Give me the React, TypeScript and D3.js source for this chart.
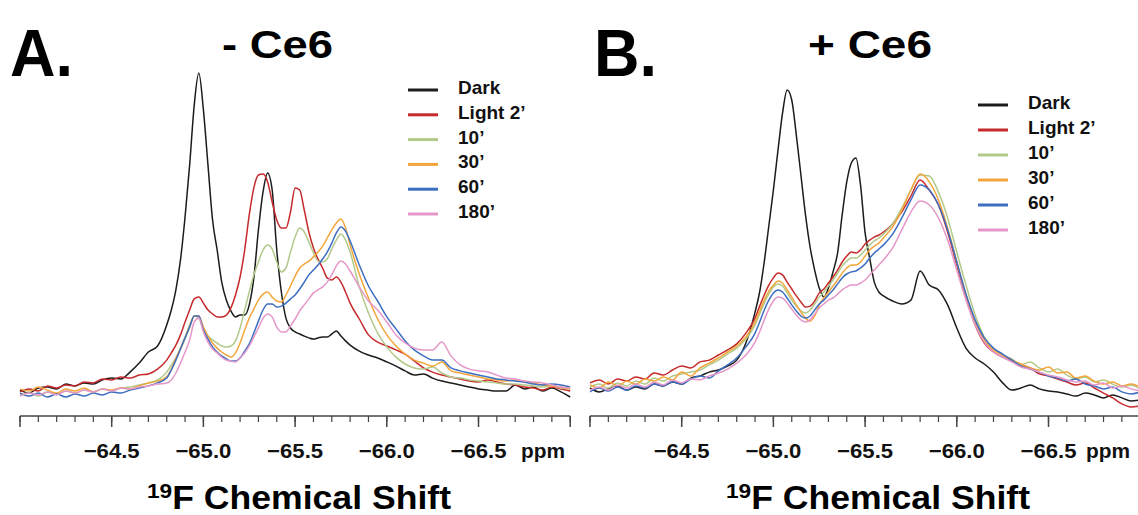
import React from 'react';
import * as d3 from 'd3';

const W = 1138;
const H = 515;

// ppm grid for panel A (finer in the peak region)
const gridA = [
  -64.0, -64.05, -64.1, -64.15, -64.2, -64.25, -64.3, -64.35, -64.4, -64.45, -64.5, -64.55, -64.6, -64.65, -64.7, -64.75,
  -64.8, -64.825, -64.85, -64.875, -64.9, -64.925, -64.95, -64.975, -65.0, -65.025, -65.05, -65.075, -65.1, -65.125,
  -65.15, -65.175, -65.2, -65.225, -65.25, -65.275, -65.3, -65.325, -65.35, -65.375, -65.4, -65.425, -65.45, -65.475,
  -65.5, -65.525, -65.55, -65.575, -65.6, -65.625, -65.65, -65.675, -65.7, -65.725, -65.75, -65.775, -65.8,
  -65.85, -65.9, -65.95, -66.0, -66.05, -66.1, -66.15, -66.2, -66.25, -66.3, -66.35, -66.4, -66.45, -66.5,
  -66.55, -66.6, -66.65, -66.7, -66.75, -66.8, -66.85, -66.9, -66.95, -67.0,
];

// ppm grid for panel B
const gridB = [
  -64.0, -64.05, -64.1, -64.15, -64.2, -64.25, -64.3, -64.35, -64.4, -64.45, -64.5, -64.55, -64.6, -64.65, -64.7, -64.75,
  -64.8, -64.85,
  -64.9, -64.925, -64.95, -64.975, -65.0, -65.025, -65.05, -65.075, -65.1, -65.125, -65.15, -65.175, -65.2, -65.225,
  -65.25, -65.275, -65.3, -65.325, -65.35, -65.375, -65.4, -65.425, -65.45, -65.475, -65.5, -65.525, -65.55, -65.575, -65.6,
  -65.65, -65.7, -65.75, -65.8, -65.85, -65.9, -65.95, -66.0, -66.05, -66.1, -66.15, -66.2, -66.25, -66.3, -66.35, -66.4,
  -66.45, -66.5, -66.55, -66.6, -66.65, -66.7, -66.75, -66.8, -66.85, -66.9, -66.95, -67.0,
];

// Panel A (- Ce6) intensities
const darkA = [
  3.3, 2.3, 4, 4.3, 3.7, 5.3, 4.7, 5.7, 5.3, 6.7, 7.3, 7, 9.3, 12.3, 16, 18,
  25, 30, 36.7, 46.7, 61, 78.3, 98.3, 109, 96.7, 78.3, 60, 50, 39.3, 33.3, 29.7, 27.7, 28.3, 28.3, 31.7, 40.7, 56.7, 69.3,
  75.7, 70, 50, 36, 27.3, 24, 22.7, 22, 21.3, 20.7, 20.3, 20.7, 21, 21, 22, 23, 21.3, 19.7, 18.3,
  16.3, 15, 14, 12.7, 11.3, 9.7, 8.3, 8.7, 7.3, 6.3, 5.7, 5, 4.3, 3.7, 3.3, 3, 3, 5, 3.7, 4.3, 3, 4, 2.7, 1,
];
const lightA = [
  2.7, 3.7, 3, 4.7, 4, 5, 4.7, 6, 5.7, 7, 6.7, 7.7, 7.3, 8.3, 8.7, 10.3,
  13.3, 15.7, 18.3, 21.7, 26, 30, 33.7, 34.3, 32.3, 30, 28.7, 27.7, 27.7, 28.3, 30.7, 35, 41, 50, 61.7, 70.7, 75, 75.3,
  72.7, 66, 60, 57.3, 57.3, 62.7, 70.7, 70, 63.3, 56, 50.7, 47, 44, 40.7, 40, 41, 39.3, 36, 32.3,
  27, 21.7, 19.3, 18, 16.7, 15.3, 13, 10.7, 9.3, 8.3, 7.7, 7, 6.3, 6, 6.7, 6, 5.3, 5, 4.3, 4, 3.3, 4.3, 3.7, 3,
];
const m10A = [
  1.7, 2.3, 1.3, 2.7, 2, 3, 2.3, 3.3, 2.7, 3.7, 3, 4, 4.3, 5, 5.7, 6.7,
  9.3, 11.7, 14, 17.3, 21, 25, 28, 27.3, 23.3, 21.3, 20, 19, 18, 17.7, 18, 19.7, 24, 30, 36, 41.7, 46, 50,
  51.7, 50.3, 46, 42.7, 44, 49.3, 54.3, 57.3, 56, 52.7, 49, 46.3, 46, 47, 50.3, 53.3, 55.3, 53.3, 49.3,
  37.7, 29, 22.3, 17.7, 14.3, 12, 10.7, 10.3, 11, 9, 7.7, 7.3, 6.7, 6.3, 6, 5.7, 5.3, 5.3, 5, 4.7, 4.3, 4.7, 4, 3.7,
];
const m30A = [
  3.7, 3, 4.3, 3.3, 2.3, 3.7, 3, 4, 2.7, 3.7, 3.3, 4, 3.7, 4.7, 5.7, 6.3,
  7.7, 10.3, 14, 17, 20.7, 24.3, 28, 28, 24.3, 21.3, 19, 17.3, 16, 15, 14.3, 15.7, 19, 23.3, 27.3, 30.3, 33.3, 35.3,
  36, 34.3, 33, 32.7, 35, 38, 41.3, 44, 45.3, 46.3, 47.7, 49.3, 51.3, 54, 56.7, 59, 60.3, 57.3, 51.7,
  42, 34, 27, 21.7, 18, 15.3, 13.3, 12.3, 11.3, 12.7, 9.7, 9, 8.3, 7.7, 7, 6.7, 6.3, 6.7, 6, 5.7, 5, 4.7, 4.3, 3.7,
];
const m60A = [
  2.3, 1.3, 2.3, 1, 2, 1, 2, 1.3, 2.3, 1.7, 2.7, 2.3, 3.3, 4, 4.7, 5.7,
  7.3, 10, 13.3, 17, 20.7, 24.3, 28, 28, 23.3, 20.3, 17.7, 16, 14.7, 13.7, 13, 13, 14, 16.3, 18.7, 22.3, 26.3, 30,
  32, 32, 31, 31.3, 32.3, 33.7, 35, 37, 39.3, 41.7, 43.3, 45, 47, 49.3, 52.3, 55.7, 57.7, 56.3, 53,
  45, 38, 33, 27.7, 23.7, 19.7, 16.7, 14.7, 13.3, 13.3, 10.7, 9.7, 9, 8.3, 7.7, 7, 6.7, 6.3, 6, 5.3, 5, 5.3, 5, 4.3,
];
const m180A = [
  1.3, 2.3, 1.7, 2.7, 1.7, 3, 2.3, 3.3, 2.7, 3.7, 3, 4, 3.7, 4.3, 4.7, 5.3,
  5.7, 6.7, 9, 12.3, 16, 20, 26, 27.3, 22.7, 19.3, 17, 15.7, 14.3, 13.3, 13, 12.7, 14, 15.7, 18, 21, 24, 27.3,
  28.7, 27.7, 24.3, 22.7, 22.7, 24.7, 27, 29.7, 31.7, 33.7, 35.7, 36.7, 37.7, 39.3, 41.7, 44.7, 46.3, 45.3, 43,
  37.7, 33, 30, 26, 21.7, 19, 17.3, 16.7, 16.7, 19.3, 14.7, 11.7, 10.3, 9.7, 9.3, 8.3, 7.3, 7, 6.3, 6, 5.7, 5, 4.3, 4,
];

// Panel B (+ Ce6) intensities
const darkB = [
  4, 2.7, 3.7, 4.7, 3.3, 4.3, 3.7, 5.3, 4.7, 6, 5.3, 7.3, 8, 9.3, 10, 11.3, 13.3, 19,
  29.3, 36, 46, 58, 70, 83.3, 95.7, 103.3, 100, 88.3, 75, 61.7, 51, 43.3, 37.3, 34.3, 37.3, 42.7, 49, 61.7, 72.7, 79,
  80.7, 71.7, 55.7, 47.3, 39.3, 36, 34.7,
  33, 32, 33.3, 43, 38.3, 36.7, 31.7, 24, 17.3, 14, 12, 9.3, 5.7, 3.3, 4, 5, 3.7, 3, 2.7, 2, 1.3, 2.3, 1.7, 0.7, 1.7, 0.7, -0.3, 0,
];
const lightB = [
  5.7, 6.7, 5.3, 7, 6.3, 7.7, 7, 9, 8.3, 10, 11.3, 10.7, 12.7, 13.3, 15, 16.7, 18.7, 22.3,
  27.3, 31.3, 35, 38.3, 40.7, 42.3, 41.7, 39.3, 37, 34.7, 32.7, 31, 31.3, 33, 35.7, 37, 39, 41, 43.3, 46, 48, 49.3,
  49, 50, 52, 53.3, 54.3, 55, 56,
  58.7, 62.7, 68, 73.3, 70, 65, 56, 45, 34.3, 25, 19, 16, 14.3, 13, 11.7, 10.7, 8.7, 8, 7, 6, 5, 5.7, 4, 2.3, 0.7, -1.3, -2.3, -2,
];
const m10B = [
  4.3, 5.3, 4, 5.7, 4.7, 6.3, 5.3, 7.3, 6.3, 8, 8.7, 9.3, 10, 11.7, 13.3, 15.3, 17.3, 20.3,
  25, 28.7, 32.3, 35.3, 37.7, 38.7, 38, 35.7, 33.3, 31.3, 29.7, 29, 30, 32, 34.3, 36, 38, 40, 42.3, 44.7, 46.3, 47.3,
  47.3, 48.3, 50, 51.7, 53, 54, 55.3,
  58.7, 64, 70, 75, 74.7, 69.3, 60.7, 49.3, 38.3, 28.3, 21, 17, 15, 13.7, 11.7, 12.7, 10.7, 9.3, 10.3, 8.3, 7, 7.7, 6, 6.7, 5.3, 4.3, 5, 3.7,
];
const m30B = [
  5, 4, 6, 4.7, 6.3, 5.3, 7, 6.3, 7.7, 6.7, 9.3, 8, 10.7, 12.3, 14, 16, 18, 21,
  26, 29.7, 33.3, 36.3, 38.3, 39.7, 39, 36.7, 34.3, 31.7, 29.3, 27.3, 26.3, 28, 31.7, 34, 36, 38, 40, 42.3, 44, 45,
  45, 46, 48, 50, 51.3, 52.3, 54,
  57.7, 63.3, 70, 75.3, 72.7, 66.7, 57.3, 46, 35, 26, 20, 16.7, 15, 13.3, 12, 10.7, 10, 11, 9, 9.3, 7.3, 8, 6.3, 5.3, 6, 4.7, 5.3, 4.3,
];
const m60B = [
  2.7, 4, 3, 4.3, 3.3, 4.7, 4, 5.3, 4.7, 6, 5.3, 7, 8, 7.3, 9.7, 11.7, 14, 17.7,
  22.3, 26, 30, 33.3, 35.7, 36.7, 36, 34, 31.7, 29.7, 28, 27.3, 28, 30, 32, 33.3, 35, 36.7, 38.7, 40.7, 42, 42.7,
  43, 44, 45.3, 47.3, 49, 50.3, 51.7,
  55.3, 60.7, 66.7, 71.7, 70, 65, 56.7, 46, 35.3, 26.7, 20.7, 17.3, 15.3, 13.3, 11.3, 10.3, 9.3, 8, 7.3, 6.3, 7, 5.3, 4.7, 3.7, 4.3, 2.7, 2, 2.7,
];
const m180B = [
  3.3, 4.3, 3.3, 5, 4, 5.3, 4.3, 6, 5, 6.7, 5.7, 7, 6.7, 8, 9, 10.3, 12.3, 15,
  19.3, 22.7, 26.7, 30.3, 33, 34.3, 34, 32.3, 30.3, 28.3, 26.7, 26, 26.7, 28.7, 30.7, 32, 33.3, 34, 35.3, 36.7, 37.7, 38.3,
  38.3, 39, 40, 41.7, 43.3, 45, 46.7,
  50.7, 56.7, 62.7, 66.3, 65, 60.7, 53.3, 43.3, 33.3, 25, 19.3, 16, 14.3, 12.7, 11, 10.3, 9.3, 8.3, 7.7, 6.7, 6, 6.3, 5, 5.7, 4, 4.7, 3.7, 3,
];

const seriesNames = ['Dark', 'Light 2\u2019', '10\u2019', '30\u2019', '60\u2019', '180\u2019'];
const seriesColors = ['#1c1c1c', '#c62a2c', '#b2c98a', '#f2a63c', '#3d6ec2', '#e597c8'];
const labeledTicks = [-64.5, -65.0, -65.5, -66.0, -66.5];
const majorTicks = [-64.0, -64.5, -65.0, -65.5, -66.0, -66.5, -67.0];
const xDomain = [-64.0, -67.0];
const yDomain = [0, 110];

const FONT = "'Liberation Sans', Arial, Helvetica, sans-serif";

type PanelProps = {
  left: number;
  grid: number[];
  series: number[][];
  letter: string;
  letterX: number;
  title: string;
  titleX: number;
  titleLen: number;
  legendX: number;
  legendY: number;
  legendStep: number;
  axisTitleX: number;
  ppmX: number;
};

function Panel(p: PanelProps) {
  const x = d3.scaleLinear().domain(xDomain).range([p.left, p.left + 550.2]);
  const y = d3.scaleLinear().domain(yDomain).range([400, 70]);
  const axisY = 416;
  const minorTicks = x.ticks(30);
  const line = d3
    .line<number>()
    .x((_, i) => x(p.grid[i]))
    .y((d) => y(d))
    .curve(d3.curveMonotoneX);
  const fmt = d3.format('.1f');

  return (
    <g>
      <text x={p.letterX} y={76} fontFamily={FONT} fontWeight="bold" fontSize={66} textLength={63} lengthAdjust="spacingAndGlyphs" fill="#000">
        {p.letter}
      </text>
      <text x={p.titleX} y={58} fontFamily={FONT} fontWeight="bold" fontSize={39} textLength={p.titleLen} lengthAdjust="spacingAndGlyphs" fill="#000">
        {p.title}
      </text>

      {p.series.map((s, i) => (
        <path key={i} d={line(s) || ''} fill="none" stroke={seriesColors[i]} strokeWidth={1.5} strokeLinejoin="round" />
      ))}

      {seriesNames.map((name, i) => {
        const cy = p.legendY + i * p.legendStep;
        return (
          <g key={name}>
            <line x1={p.legendX} x2={p.legendX + 30} y1={cy + 3} y2={cy + 3} stroke={seriesColors[i]} strokeWidth={3} />
            <text x={p.legendX + 50} y={cy + 7} fontFamily={FONT} fontWeight="bold" fontSize={19} fill="#111">
              {name}
            </text>
          </g>
        );
      })}

      <line x1={x(xDomain[0])} x2={x(xDomain[1])} y1={axisY} y2={axisY} stroke="#444" strokeWidth={1.5} />
      {minorTicks.map((t) => (
        <line key={'m' + t} x1={x(t)} x2={x(t)} y1={axisY} y2={axisY + 6} stroke="#444" strokeWidth={1.2} />
      ))}
      {majorTicks.map((t) => (
        <line key={'M' + t} x1={x(t)} x2={x(t)} y1={axisY} y2={axisY + 11} stroke="#444" strokeWidth={1.5} />
      ))}
      {labeledTicks.map((t) => (
        <text key={'l' + t} x={x(t)} y={458} textAnchor="middle" fontFamily={FONT} fontWeight="bold" fontSize={21} textLength={56} lengthAdjust="spacingAndGlyphs" fill="#111">
          {fmt(t)}
        </text>
      ))}
      <text x={p.ppmX} y={458} fontFamily={FONT} fontWeight="bold" fontSize={21} textLength={44} lengthAdjust="spacingAndGlyphs" fill="#111">
        ppm
      </text>

      <text x={p.axisTitleX} y={509} fontFamily={FONT} fontWeight="bold" fontSize={33} textLength={304} lengthAdjust="spacingAndGlyphs" fill="#000">
        <tspan fontSize={21} dy={-11}>19</tspan>
        <tspan dy={11}>F Chemical Shift</tspan>
      </text>
    </g>
  );
}

export default function App() {
  return (
    <div style={{ position: 'absolute', left: 0, top: 0, width: W, height: H, background: '#fff' }}>
      <svg width={W} height={H} viewBox={`0 0 ${W} ${H}`} style={{ display: 'block' }}>
        <rect x={0} y={0} width={W} height={H} fill="#fff" />
        <Panel
          left={20}
          grid={gridA}
          series={[darkA, lightA, m10A, m30A, m60A, m180A]}
          letter="A."
          letterX={10}
          title="- Ce6"
          titleX={222}
          titleLen={111}
          legendX={408}
          legendY={87}
          legendStep={24.8}
          axisTitleX={147}
          ppmX={521}
        />
        <Panel
          left={590}
          grid={gridB}
          series={[darkB, lightB, m10B, m30B, m60B, m180B]}
          letter="B."
          letterX={594}
          title="+ Ce6"
          titleX={808}
          titleLen={124}
          legendX={978}
          legendY={102}
          legendStep={25}
          axisTitleX={726}
          ppmX={1086}
        />
      </svg>
    </div>
  );
}
